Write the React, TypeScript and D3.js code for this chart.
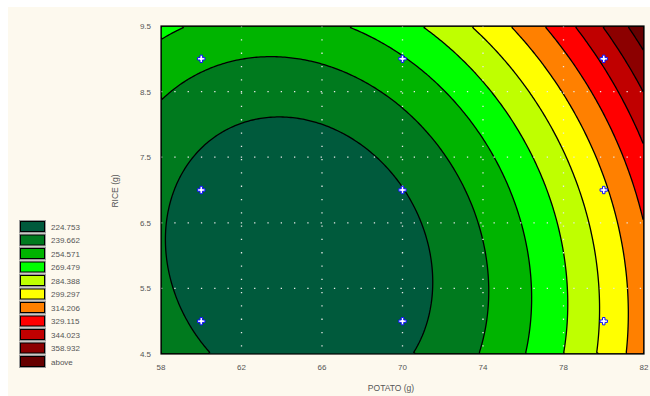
import React, { useEffect, useRef } from 'react';
import * as d3 from 'd3';

// fitted response surface: f = b0 + bP*p + bR*r + bPP*p^2 + bRR*r^2 + bPR*p*r
const modelTerms = ["b0", "bP", "bR", "bPP", "bRR", "bPR"];
const modelCoefs = [1872.04, -46.052, -56.93, 0.341, 3.127, 0.3069];

const levels = [224.753, 239.662, 254.571, 269.479, 284.388, 299.297, 314.206, 329.115, 344.023, 358.932];
const legendLabels = ["224.753", "239.662", "254.571", "269.479", "284.388", "299.297", "314.206", "329.115", "344.023", "358.932", "above"];
const palette = ["#005a3c", "#007a1e", "#00b400", "#00ff00", "#bfff00", "#ffff00", "#ff8000", "#ff0000", "#c00000", "#8c0000", "#660000"];

const potatoTicks = [58, 62, 66, 70, 74, 78, 82];
const riceTicks = [4.5, 5.5, 6.5, 7.5, 8.5, 9.5];

const designPotato = [60, 60, 60, 70, 70, 70, 80, 80, 80];
const designRice = [5, 7, 9, 5, 7, 9, 5, 7, 9];

const W = 650;
const H = 396;

export default function App() {
  const svgRef = useRef<SVGSVGElement>(null);

  useEffect(() => {
    if (!svgRef.current) return;
    const svg = d3.select(svgRef.current);
    svg.selectAll("*").remove();

    const plot = { left: 161, top: 26, right: 644, bottom: 354 };
    const font = "'Liberation Sans', Arial, sans-serif";
    const textColor = "#555";

    svg.append("rect").attr("width", W).attr("height", H).attr("fill", "#ffffff");
    svg.append("rect").attr("x", 8).attr("y", 7).attr("width", W - 8).attr("height", H - 7).attr("fill", "#fdf9ee");

    const x = d3.scaleLinear().domain([58, 82]).range([plot.left, plot.right]);
    const y = d3.scaleLinear().domain([4.5, 9.5]).range([plot.bottom, plot.top]);

    const c: Record<string, number> = {};
    modelTerms.forEach((t, i) => { c[t] = modelCoefs[i]; });
    const f = (p: number, r: number) =>
      c.b0 + c.bP * p + c.bR * r + c.bPP * p * p + c.bRR * r * r + c.bPR * p * r;

    // grid over the plot, one value per cell centre
    const nx = 240, ny = 100;
    const dx = 24 / nx, dy = 5 / ny;
    const values: number[] = new Array(nx * ny);
    for (let j = 0; j < ny; j++) {
      for (let i = 0; i < nx; i++) {
        values[j * nx + i] = f(58 + (i + 0.5) * dx, 4.5 + (j + 0.5) * dy);
      }
    }
    const contours = d3.contours().size([nx, ny]).thresholds(levels)(values);
    const proj = d3.geoTransform({
      point(px: number, py: number) {
        (this as any).stream.point(x(58 + px * dx), y(4.5 + py * dy));
      }
    });
    const path = d3.geoPath(proj);

    svg.append("clipPath").attr("id", "plotClip").append("rect")
      .attr("x", plot.left).attr("y", plot.top)
      .attr("width", plot.right - plot.left).attr("height", plot.bottom - plot.top);

    const g = svg.append("g").attr("clip-path", "url(#plotClip)");
    g.append("rect").attr("x", plot.left).attr("y", plot.top)
      .attr("width", plot.right - plot.left).attr("height", plot.bottom - plot.top)
      .attr("fill", palette[0]);
    g.selectAll("path.band").data(contours).enter().append("path")
      .attr("class", "band")
      .attr("d", d => path(d as any))
      .attr("fill", (_, i) => palette[i + 1])
      .attr("stroke", "#000").attr("stroke-width", 1.3).attr("stroke-linejoin", "round");

    // dotted grid
    potatoTicks.slice(1, -1).forEach(t => {
      g.append("line").attr("x1", x(t)).attr("x2", x(t)).attr("y1", plot.top).attr("y2", plot.bottom)
        .attr("stroke", "#e8e8e8").attr("stroke-width", 1.3).attr("stroke-dasharray", "1.3,12");
    });
    riceTicks.slice(1, -1).forEach(t => {
      g.append("line").attr("x1", plot.left).attr("x2", plot.right).attr("y1", y(t)).attr("y2", y(t))
        .attr("stroke", "#e8e8e8").attr("stroke-width", 1.3).attr("stroke-dasharray", "1.3,12");
    });

    // design points
    const cross = d3.symbol().type(d3.symbolCross).size(30);
    designPotato.forEach((p, i) => {
      g.append("path").attr("d", cross()!)
        .attr("transform", `translate(${x(p)},${y(designRice[i])})`)
        .attr("fill", "#ffffff").attr("stroke", "#1010ff").attr("stroke-width", 1);
    });

    svg.append("rect").attr("x", plot.left).attr("y", plot.top)
      .attr("width", plot.right - plot.left).attr("height", plot.bottom - plot.top)
      .attr("fill", "none").attr("stroke", "#000").attr("stroke-width", 1.2);

    // ticks
    potatoTicks.forEach(t => {
      svg.append("text").attr("x", x(t)).attr("y", 370).attr("text-anchor", "middle")
        .attr("fill", textColor).style("font-family", font).style("font-size", "8px").text(String(t));
    });
    riceTicks.forEach(t => {
      svg.append("text").attr("x", 151).attr("y", y(t) + 3).attr("text-anchor", "end")
        .attr("fill", textColor).style("font-family", font).style("font-size", "8px").text(t.toFixed(1));
    });

    svg.append("text").attr("x", 391).attr("y", 391).attr("text-anchor", "middle")
      .attr("fill", textColor).style("font-family", font).style("font-size", "8.5px").text("POTATO (g)");
    svg.append("text").attr("transform", `translate(118, 191) rotate(-90)`).attr("text-anchor", "middle")
      .attr("fill", textColor).style("font-family", font).style("font-size", "8.5px").text("RICE (g)");

    // legend
    const legend = svg.append("g").attr("transform", "translate(20, 221)");
    legendLabels.forEach((label, i) => {
      const lg = legend.append("g").attr("transform", `translate(0, ${i * 13.5})`);
      lg.append("rect").attr("x", -0.5).attr("y", -0.5).attr("width", 26).attr("height", 12)
        .attr("fill", "none").attr("stroke", "#999").attr("stroke-width", 1);
      lg.append("rect").attr("x", 0.5).attr("y", 0.5).attr("width", 24).attr("height", 10)
        .attr("fill", palette[i]).attr("stroke", "#000").attr("stroke-width", 1);
      lg.append("text").attr("x", 31).attr("y", 8.5).attr("fill", textColor)
        .style("font-family", font).style("font-size", "8px").text(label);
    });
  }, []);

  return (
    <svg ref={svgRef} width={W} height={H} viewBox={`0 0 ${W} ${H}`}
      style={{ position: "absolute", left: 0, top: 0, display: "block" }} />
  );
}
